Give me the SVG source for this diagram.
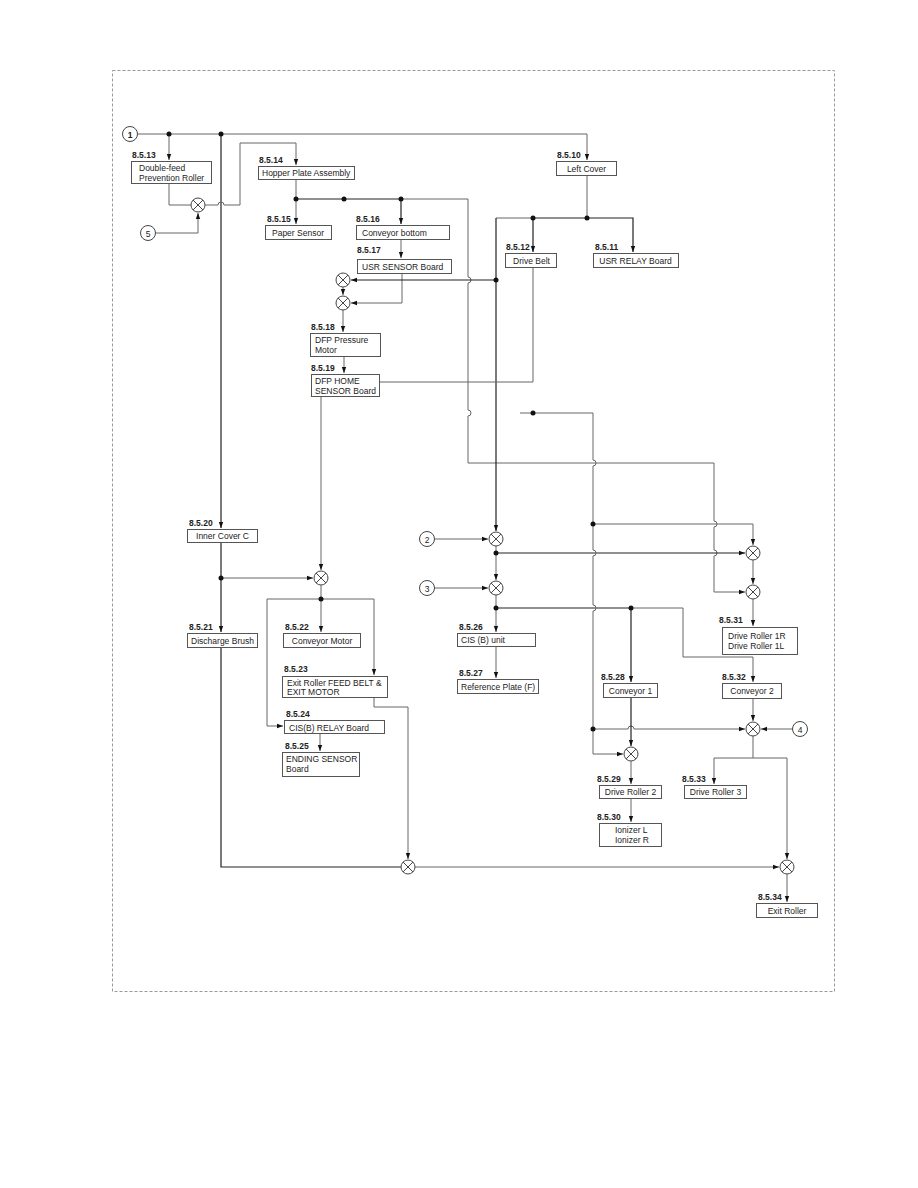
<svg xmlns="http://www.w3.org/2000/svg" width="918" height="1188" viewBox="0 0 918 1188">
<style>
text{font-family:"Liberation Sans",Arial,sans-serif;fill:#222}
.lb{font-size:8.5px;font-weight:bold}
.tx{font-size:8.5px}
.c{text-anchor:middle}
.box{fill:#fff;stroke:#555;stroke-width:1}
.g{fill:none;stroke:#666;stroke-width:1}
.k{fill:none;stroke:#222;stroke-width:1.2}
.a{marker-end:url(#ar)}
.dot{fill:#111}
.xr{fill:#fff;stroke:#444;stroke-width:1}
.xl{stroke:#444;stroke-width:1}
.num{fill:#fff;stroke:#444;stroke-width:1}
</style>
<defs>
<marker id="ar" markerUnits="userSpaceOnUse" markerWidth="8" markerHeight="8" refX="6" refY="3" orient="auto">
<path d="M0,0.8 L6,3 L0,5.2 Z" fill="#111"/>
</marker>
<g id="xor"><circle r="7" class="xr"/><path d="M-4.95,-4.95 L4.95,4.95 M-4.95,4.95 L4.95,-4.95" class="xl"/></g>
</defs>
<rect x="112.5" y="70.5" width="722" height="921" fill="none" stroke="#999" stroke-width="1" stroke-dasharray="3,2"/>

<g id="connectors">
<path class="g a" d="M137.5,134 H587 V160"/>
<path class="g a" d="M169,134 V160"/>
<path class="k a" d="M221,134 V528"/>
<path class="g" d="M169,183 V205 H191"/>
<path class="g a" d="M155.5,233 H198 V213"/>
<path class="g a" d="M205,205 H218 a3,3 0 0 1 6,0 H240 V143 H296 V165"/>
<path class="g a" d="M296,180 V224"/>
<path class="k" d="M296,199 H401"/>
<path class="g a" d="M401,199 H468 V277 a3,3 0 0 1 0,6 V410 a3,3 0 0 1 0,6 V463 H714 V521 a3,3 0 0 1 0,6 V550 a3,3 0 0 1 0,6 V592 H745"/>
<path class="k a" d="M401,199 V224"/>
<path class="g a" d="M401,239 V258"/>
<path class="g a" d="M402,273 V303 H351"/>
<path class="g" d="M587,175 V218"/>
<path class="g" d="M496,218 H533"/>
<path class="k a" d="M533,218 H633 V252"/>
<path class="k a" d="M533,218 V252"/>
<path class="k a" d="M496,218 V531"/>
<path class="k a" d="M496,280 H351"/>
<path class="g a" d="M343,287 V295"/>
<path class="g a" d="M343,310 V332"/>
<path class="g a" d="M344,356 V373"/>
<path class="g" d="M379,382 H533 V267"/>
<path class="g a" d="M321,396 V570"/>
<path class="g a" d="M221,578 H313"/>
<path class="k a" d="M221,542 V632"/>
<path class="g a" d="M321,585 V632"/>
<path class="g a" d="M321,599 H267 V726 H283"/>
<path class="g a" d="M321,599 H374 V675"/>
<path class="g a" d="M374,697 V707 H408 V859"/>
<path class="g a" d="M320,733 V751"/>
<path class="k" d="M221,647 V867 H401"/>
<path class="g a" d="M415,867 H779"/>
<path class="g a" d="M787,874 V902"/>
<path class="g a" d="M434.5,539 H488"/>
<path class="g a" d="M496,546 V580"/>
<path class="k a" d="M496,553 H745"/>
<path class="g a" d="M434.5,588 H488"/>
<path class="g a" d="M496,595 V632"/>
<path class="k" d="M496,608 H631"/>
<path class="g a" d="M631,608 H683 V657 H753 V682"/>
<path class="k a" d="M631,608 V682"/>
<path class="g a" d="M496,646 V678"/>
<path class="g a" d="M520,413 H593 V460 a3,3 0 0 1 0,6 V550 a3,3 0 0 1 0,6 V605 a3,3 0 0 1 0,6 V754 H623"/>
<path class="g a" d="M593,524 H753 V545"/>
<path class="g a" d="M593,729 H628 a3,3 0 0 1 6,0 H745"/>
<path class="k a" d="M631,697 V746"/>
<path class="g a" d="M631,761 V784"/>
<path class="g a" d="M631,798 V822"/>
<path class="g a" d="M753,698 V721"/>
<path class="g a" d="M792.5,729 H761"/>
<path class="g a" d="M753,560 V584"/>
<path class="g a" d="M753,599 V626"/>
<path class="g a" d="M753,736 V758 H714 V784"/>
<path class="g a" d="M753,758 H787 V859"/>
<circle class="dot" cx="169" cy="134" r="2.5"/>
<circle class="dot" cx="221" cy="134" r="2.5"/>
<circle class="dot" cx="296" cy="199" r="2.5"/>
<circle class="dot" cx="344" cy="199" r="2.5"/>
<circle class="dot" cx="401" cy="199" r="2.5"/>
<circle class="dot" cx="533" cy="218" r="2.5"/>
<circle class="dot" cx="587" cy="218" r="2.5"/>
<circle class="dot" cx="496" cy="280" r="2.5"/>
<circle class="dot" cx="533" cy="413" r="2.5"/>
<circle class="dot" cx="221" cy="578" r="2.5"/>
<circle class="dot" cx="321" cy="599" r="2.5"/>
<circle class="dot" cx="593" cy="524" r="2.5"/>
<circle class="dot" cx="496" cy="553" r="2.5"/>
<circle class="dot" cx="496" cy="608" r="2.5"/>
<circle class="dot" cx="631" cy="608" r="2.5"/>
<circle class="dot" cx="593" cy="729" r="2.5"/>
</g>

<g id="junctions">
<use href="#xor" x="198" y="205"/>
<use href="#xor" x="343" y="280"/>
<use href="#xor" x="343" y="303"/>
<use href="#xor" x="321" y="578"/>
<use href="#xor" x="408" y="867"/>
<use href="#xor" x="787" y="867"/>
<use href="#xor" x="496" y="539"/>
<use href="#xor" x="496" y="588"/>
<use href="#xor" x="753" y="553"/>
<use href="#xor" x="753" y="592"/>
<use href="#xor" x="753" y="729"/>
<use href="#xor" x="631" y="754"/>
</g>

<g id="c1"><circle class="num" cx="130" cy="134" r="7.5" stroke-width="1.3"/><text class="tx c" x="130" y="137.5" font-weight="bold">1</text></g>
<g id="c5"><circle class="num" cx="148" cy="233" r="7.5"/><text class="tx c" x="148" y="236.5">5</text></g>
<g id="c2"><circle class="num" cx="427" cy="539" r="7.5"/><text class="tx c" x="427" y="542.5">2</text></g>
<g id="c3"><circle class="num" cx="427" cy="588" r="7.5"/><text class="tx c" x="427" y="591.5">3</text></g>
<g id="c4"><circle class="num" cx="800" cy="729" r="7.5"/><text class="tx c" x="800" y="732.5">4</text></g>

<g id="n8513"><rect class="box" x="131.5" y="161.5" width="80" height="22"/><text class="lb" x="132" y="158">8.5.13</text><text class="tx" x="139" y="171">Double-feed</text><text class="tx" x="139" y="181">Prevention Roller</text></g>
<g id="n8514"><rect class="box" x="258.5" y="166.5" width="96" height="13"/><text class="lb" x="259" y="163">8.5.14</text><text class="tx" x="262" y="176">Hopper Plate Assembly</text></g>
<g id="n8515"><rect class="box" x="265.5" y="225.5" width="66" height="14"/><text class="lb" x="267" y="222">8.5.15</text><text class="tx c" x="298" y="235.5">Paper Sensor</text></g>
<g id="n8516"><rect class="box" x="356.5" y="225.5" width="93" height="14"/><text class="lb" x="356" y="222">8.5.16</text><text class="tx" x="362" y="235.5">Conveyor bottom</text></g>
<g id="n8517"><rect class="box" x="357.5" y="259.5" width="94" height="14"/><text class="lb" x="357" y="253">8.5.17</text><text class="tx" x="362" y="269.5">USR SENSOR Board</text></g>
<g id="n8518"><rect class="box" x="310.5" y="333.5" width="70" height="23"/><text class="lb" x="311" y="330">8.5.18</text><text class="tx" x="315" y="343">DFP Pressure</text><text class="tx" x="315" y="353">Motor</text></g>
<g id="n8519"><rect class="box" x="311.5" y="374.5" width="68" height="22"/><text class="lb" x="311" y="371">8.5.19</text><text class="tx" x="315" y="383.5">DFP HOME</text><text class="tx" x="315" y="393.5">SENSOR Board</text></g>
<g id="n8510"><rect class="box" x="556.5" y="161.5" width="60" height="14"/><text class="lb" x="557" y="158">8.5.10</text><text class="tx c" x="586.5" y="171.5">Left Cover</text></g>
<g id="n8512"><rect class="box" x="505.5" y="253.5" width="51" height="14"/><text class="lb" x="506" y="250">8.5.12</text><text class="tx c" x="531.5" y="263.5">Drive Belt</text></g>
<g id="n8511"><rect class="box" x="593.5" y="253.5" width="85" height="14"/><text class="lb" x="595" y="250">8.5.11</text><text class="tx c" x="635.5" y="263.5">USR RELAY Board</text></g>
<g id="n8520"><rect class="box" x="187.5" y="529.5" width="70" height="13"/><text class="lb" x="189" y="526">8.5.20</text><text class="tx c" x="222.5" y="539">Inner Cover C</text></g>
<g id="n8521"><rect class="box" x="187.5" y="633.5" width="70" height="14"/><text class="lb" x="189" y="630">8.5.21</text><text class="tx c" x="222.5" y="643.5">Discharge Brush</text></g>
<g id="n8522"><rect class="box" x="283.5" y="633.5" width="77" height="14"/><text class="lb" x="285" y="630">8.5.22</text><text class="tx c" x="322" y="643.5">Conveyor Motor</text></g>
<g id="n8523"><rect class="box" x="282.5" y="676.5" width="105" height="21"/><text class="lb" x="284" y="672">8.5.23</text><text class="tx" x="287" y="685.5">Exit Roller FEED BELT &amp;</text><text class="tx" x="287" y="695">EXIT MOTOR</text></g>
<g id="n8524"><rect class="box" x="284.5" y="720.5" width="100" height="13"/><text class="lb" x="286" y="717">8.5.24</text><text class="tx" x="289" y="730.5">CIS(B) RELAY Board</text></g>
<g id="n8525"><rect class="box" x="282.5" y="752.5" width="77" height="24"/><text class="lb" x="285" y="749">8.5.25</text><text class="tx" x="286" y="762">ENDING SENSOR</text><text class="tx" x="286" y="772">Board</text></g>
<g id="n8526"><rect class="box" x="457.5" y="633.5" width="78" height="13"/><text class="lb" x="459" y="630">8.5.26</text><text class="tx" x="461" y="643">CIS (B) unit</text></g>
<g id="n8527"><rect class="box" x="457.5" y="679.5" width="81" height="14"/><text class="lb" x="459" y="676">8.5.27</text><text class="tx" x="461" y="689.5">Reference Plate (F)</text></g>
<g id="n8528"><rect class="box" x="603.5" y="683.5" width="54" height="14"/><text class="lb" x="601" y="680">8.5.28</text><text class="tx c" x="630.5" y="693.5">Conveyor 1</text></g>
<g id="n8529"><rect class="box" x="599.5" y="785.5" width="62" height="13"/><text class="lb" x="597" y="782">8.5.29</text><text class="tx c" x="630.5" y="795">Drive Roller 2</text></g>
<g id="n8530"><rect class="box" x="599.5" y="823.5" width="62" height="23"/><text class="lb" x="597" y="820">8.5.30</text><text class="tx" x="615" y="833">Ionizer L</text><text class="tx" x="615" y="843">Ionizer R</text></g>
<g id="n8531"><rect class="box" x="722.5" y="627.5" width="75" height="27"/><text class="lb" x="719" y="623">8.5.31</text><text class="tx" x="728" y="639">Drive Roller 1R</text><text class="tx" x="728" y="649">Drive Roller 1L</text></g>
<g id="n8532"><rect class="box" x="722.5" y="683.5" width="59" height="15"/><text class="lb" x="722" y="680">8.5.32</text><text class="tx c" x="752" y="694">Conveyor 2</text></g>
<g id="n8533"><rect class="box" x="684.5" y="785.5" width="62" height="13"/><text class="lb" x="682" y="782">8.5.33</text><text class="tx c" x="715.5" y="795">Drive Roller 3</text></g>
<g id="n8534"><rect class="box" x="756.5" y="903.5" width="61" height="14"/><text class="lb" x="758" y="900">8.5.34</text><text class="tx c" x="787" y="913.5">Exit Roller</text></g>
</svg>
